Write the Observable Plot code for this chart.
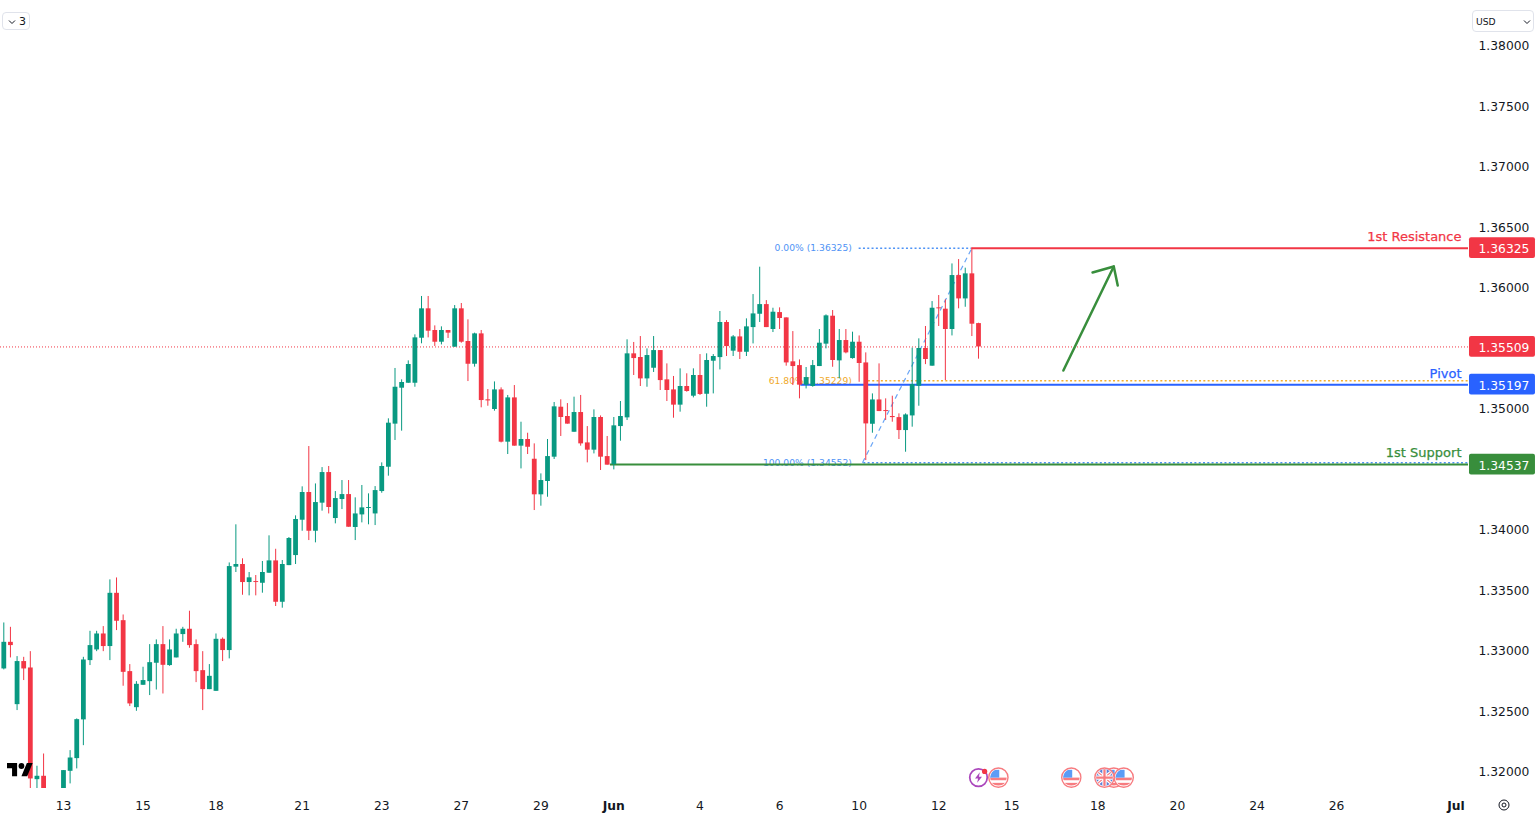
<!DOCTYPE html>
<html>
<head>
<meta charset="utf-8">
<script src="https://cdn.jsdelivr.net/npm/d3@7"></script>
<script src="https://cdn.jsdelivr.net/npm/@observablehq/plot@0.6"></script>
<style>
html,body{margin:0;padding:0;background:#fff;overflow:hidden}
#wrap{position:relative;width:1538px;height:816px;font-family:"DejaVu Sans",sans-serif;color:#131722}
#wrap>svg{display:block}
.ctl{position:absolute;box-sizing:border-box;border:1px solid #e0e3eb;border-radius:4px;background:#fff;font-size:11px;line-height:1}
</style>
</head>
<body>
<div id="wrap"></div>
<script>
const open = [
1.32848,1.33068,1.32553,1.32909,1.32856,1.31933,1.31961,1.31600,1.31750,1.31780,
1.32002,1.32107,1.32427,1.32917,1.33005,1.33137,1.33033,1.33473,1.33247,1.32826,
1.32528,1.32713,1.32743,1.32895,1.33049,1.32876,1.32939,1.33132,1.33176,1.33049,
1.32834,1.32677,1.32663,1.33093,1.33000,1.33689,1.33711,1.33562,1.33570,1.33556,
1.33639,1.33741,1.33399,1.33702,1.33785,1.34077,1.34306,1.33986,1.34218,1.34471,
1.34091,1.34248,1.34289,1.34017,1.34121,1.34174,1.34129,1.34314,1.34515,1.34871,
1.35168,1.35209,1.35209,1.35581,1.35824,1.35645,1.35548,1.35645,1.35507,1.35824,
1.35554,1.35366,1.35617,1.35072,1.34992,1.35154,1.34722,1.35088,1.34689,1.34744,
1.34581,1.34287,1.34397,1.34598,1.35011,1.34934,1.34804,1.34967,1.34716,1.34656,
1.34926,1.34603,1.34537,1.34851,1.34923,1.35452,1.35422,1.35245,1.35333,1.35479,
1.35237,1.35154,1.35028,1.35182,1.35102,1.35273,1.35118,1.35391,1.35421,1.35711,
1.35474,1.35592,1.35465,1.35669,1.35779,1.35859,1.35653,1.35793,1.35749,1.35386,
1.35355,1.35193,1.35182,1.35347,1.35532,1.35763,1.35394,1.35562,1.35413,1.35548,
1.35377,1.34870,1.35071,1.34983,1.34934,1.34925,1.34818,1.34939,1.35184,1.35496,
1.35350,1.35832,1.35821,1.35653,1.36099,1.35906,1.36113,1.35702];
const close = [
1.33068,1.33041,1.32909,1.32848,1.31939,1.31961,1.31700,1.31750,1.31790,1.32008,
1.32112,1.32429,1.32922,1.33041,1.33137,1.33033,1.33473,1.33242,1.32820,1.32559,
1.32721,1.32752,1.32900,1.33049,1.32878,1.33005,1.33137,1.33176,1.33041,1.32826,
1.32677,1.32787,1.33093,1.33000,1.33694,1.33711,1.33562,1.33601,1.33562,1.33645,
1.33741,1.33399,1.33711,1.33926,1.34083,1.34306,1.33986,1.34223,1.34471,1.34182,
1.34256,1.34289,1.34019,1.34129,1.34179,1.34182,1.34322,1.34521,1.34879,1.35176,
1.35215,1.35364,1.35584,1.35824,1.35639,1.35548,1.35645,1.35623,1.35824,1.35548,
1.35366,1.35617,1.35066,1.35063,1.35154,1.34722,1.35088,1.34689,1.34744,1.34680,
1.34287,1.34405,1.34603,1.35014,1.34926,1.34871,1.34967,1.34708,1.34656,1.34926,
1.34598,1.34532,1.34857,1.34934,1.35452,1.35413,1.35245,1.35438,1.35479,1.35231,
1.35149,1.35028,1.35182,1.35141,1.35273,1.35116,1.35397,1.35430,1.35711,1.35512,
1.35592,1.35465,1.35675,1.35782,1.35859,1.35669,1.35796,1.35744,1.35377,1.35347,
1.35193,1.35256,1.35355,1.35540,1.35766,1.35397,1.35562,1.35460,1.35548,1.35372,
1.34873,1.35071,1.34975,1.34975,1.34925,1.34818,1.34947,1.35198,1.35496,1.35405,
1.35829,1.35824,1.35653,1.36099,1.35906,1.36113,1.35697,1.35509];
const high = [
1.33228,1.33192,1.32950,1.32944,1.32991,1.32044,1.32145,1.31800,1.31830,1.32008,
1.32173,1.32435,1.32944,1.33159,1.33159,1.33198,1.33584,1.33600,1.33294,1.32884,
1.32743,1.32862,1.33049,1.33088,1.33198,1.33088,1.33176,1.33192,1.33325,1.33088,
1.32991,1.32884,1.33137,1.33104,1.33724,1.34039,1.33758,1.33645,1.33620,1.33736,
1.33948,1.33837,1.33744,1.33934,1.34113,1.34353,1.34686,1.34377,1.34512,1.34521,
1.34314,1.34405,1.34405,1.34262,1.34364,1.34295,1.34355,1.34551,1.34915,1.35331,
1.35237,1.35394,1.35609,1.35926,1.35926,1.35683,1.35675,1.35645,1.35851,1.35868,
1.35733,1.35623,1.35645,1.35157,1.35220,1.35171,1.35108,1.35190,1.34887,1.34796,
1.34708,1.34460,1.34744,1.35050,1.35072,1.35041,1.35094,1.35108,1.34851,1.34989,
1.34939,1.34769,1.34926,1.35058,1.35568,1.35546,1.35595,1.35493,1.35595,1.35479,
1.35369,1.35265,1.35328,1.35287,1.35328,1.35446,1.35452,1.35446,1.35802,1.35727,
1.35603,1.35653,1.35741,1.35942,1.36168,1.35892,1.35829,1.35832,1.35749,1.35636,
1.35402,1.35339,1.35397,1.35653,1.35774,1.35810,1.35653,1.35653,1.35631,1.35600,
1.35460,1.35121,1.35369,1.35080,1.35102,1.34956,1.34956,1.35499,1.35576,1.35678,
1.35884,1.35934,1.35898,1.36195,1.36231,1.36160,1.36325,1.35705];
const low = [
1.32840,1.32939,1.32504,1.32752,1.31750,1.31780,1.31650,1.31550,1.31700,1.31750,
1.31898,1.32022,1.32214,1.32876,1.32991,1.32991,1.32917,1.33165,1.32705,1.32537,
1.32498,1.32713,1.32628,1.32674,1.32641,1.32870,1.32939,1.33068,1.33019,1.32735,
1.32504,1.32677,1.32663,1.32909,1.32931,1.33645,1.33457,1.33452,1.33452,1.33474,
1.33639,1.33364,1.33350,1.33702,1.33711,1.33986,1.33909,1.33890,1.34152,1.34129,
1.34047,1.34165,1.34019,1.33909,1.34055,1.34039,1.34033,1.34300,1.34441,1.34736,
1.34813,1.35209,1.35176,1.35535,1.35584,1.35513,1.35526,1.35579,1.35507,1.35540,
1.35223,1.35342,1.35006,1.35019,1.34978,1.34716,1.34620,1.34689,1.34501,1.34620,
1.34157,1.34193,1.34267,1.34579,1.34769,1.34871,1.34804,1.34689,1.34551,1.34625,
1.34488,1.34532,1.34493,1.34730,1.34901,1.35273,1.35182,1.35176,1.35298,1.35149,
1.35058,1.34920,1.34970,1.35135,1.35088,1.35108,1.35011,1.35121,1.35319,1.35430,
1.35430,1.35405,1.35430,1.35534,1.35711,1.35669,1.35628,1.35653,1.35350,1.35190,
1.35080,1.35162,1.35176,1.35347,1.35493,1.35341,1.35245,1.35452,1.35408,1.35217,
1.34570,1.34796,1.34975,1.34901,1.34887,1.34744,1.34639,1.34846,1.35019,1.35363,
1.35350,1.35678,1.35231,1.35600,1.35824,1.35837,1.35595,1.35408];

const priceTicks = [1.38,1.375,1.37,1.365,1.36,1.35,1.34,1.335,1.33,1.325,1.32];
const dayTicks = [9,21,32,45,57,69,81,105,117,129,141,152,165,177,189,201];
const dayLabels = ["13","15","18","21","23","27","29","4","6","10","12","15","18","20","24","26"];
const monthTicks = [92,219];
const monthLabels = ["Jun","Jul"];

const lastPrice = 1.35509;
const resistance = 1.36325, pivot = 1.35197, support = 1.34537;
const fib0 = 1.36325, fib618 = 1.35229, fib100 = 1.34552;
const xEnd = 220.9, tagStart = 221.05, tagEnd = 231;
const arrowShaft = [[159.8,1.35314],[167.4,1.36174]];
const arrowHead = [[164.2,1.36124],[167.4,1.36174],[168.0,1.36017]];

const tags = [
  {price: resistance, text: "1.36325", color: "#f23645"},
  {price: lastPrice, text: "1.35509", color: "#f23645"},
  {price: pivot, text: "1.35197", color: "#2962ff"},
  {price: support, text: "1.34537", color: "#388e3c"}
];
const tagHalf = 0.00086;

const usFlag = `<svg xmlns="http://www.w3.org/2000/svg" viewBox="0 0 24 24"><defs><clipPath id="c"><circle cx="12" cy="12" r="9.5"/></clipPath></defs><circle cx="12" cy="12" r="11" fill="#fff" stroke="#f77c80" stroke-width="1.6"/><g clip-path="url(#c)"><rect width="24" height="24" fill="#fff"/><rect y="12" width="24" height="3" fill="#f77c80"/><rect y="18" width="24" height="3" fill="#f77c80"/><rect y="3" width="13" height="9" fill="#5b9cf6"/></g></svg>`;
const ukFlag = `<svg xmlns="http://www.w3.org/2000/svg" viewBox="0 0 24 24"><defs><clipPath id="c"><circle cx="12" cy="12" r="9.5"/></clipPath></defs><circle cx="12" cy="12" r="11" fill="#fff" stroke="#f77c80" stroke-width="1.6"/><g clip-path="url(#c)"><rect width="24" height="24" fill="#5b7fd6"/><path d="M0 2L24 22M24 2L0 22" stroke="#fff" stroke-width="4"/><path d="M0 2L24 22M24 2L0 22" stroke="#f77c80" stroke-width="1.4"/><path d="M12 0V24M0 12H24" stroke="#fff" stroke-width="5"/><path d="M12 0V24M0 12H24" stroke="#f77c80" stroke-width="2.6"/></g></svg>`;
const bolt = `<svg xmlns="http://www.w3.org/2000/svg" viewBox="0 0 24 24"><circle cx="12" cy="12" r="10" fill="#fff" stroke="#ab47bc" stroke-width="2"/><path d="M13.5 6L8 13h3.5l-1 5 5.5-7h-3.5z" fill="#ab47bc"/><circle cx="19" cy="5" r="3" fill="#f23645"/></svg>`;
const uri = s => "data:image/svg+xml;charset=utf-8," + encodeURIComponent(s);
const events = [
  {i: 147, src: uri(bolt)},
  {i: 150, src: uri(usFlag)},
  {i: 161, src: uri(usFlag)},
  {i: 167.4, src: uri(usFlag)},
  {i: 168.9, src: uri(usFlag)},
  {i: 166, src: uri(ukFlag)}
];
const eventPrice = 1.3195;

const candles = open.map((o, i) => ({i, o, c: close[i], h: high[i], l: low[i], col: close[i] >= o ? "#089981" : "#f23645"}));
const F = '"DejaVu Sans", sans-serif';
const levelLabel = (price, text, color, dy) => Plot.text([text], {
  y: () => price, text: d => d, frameAnchor: "right", textAnchor: "end", dx: -7, dy,
  fill: color, stroke: color, strokeWidth: 0.25, fontSize: 13
});

const chart = Plot.plot({
  width: 1538, height: 816,
  marginLeft: 0, marginRight: 70, marginTop: 0, marginBottom: 28,
  style: {background: "#fff", fontFamily: F, overflow: "visible"},
  x: {type: "linear", domain: [-0.498, xEnd]},
  y: {domain: [1.3186, 1.38372]},
  marks: [
    Plot.axisY({anchor: "right", ticks: priceTicks, tickFormat: d3.format(".5f"), tickSize: 0, tickPadding: 10, dy: 1, label: null, fontSize: 12.3, fill: "#131722", textAnchor: "start"}),
    Plot.axisX({ticks: dayTicks, tickFormat: d => dayLabels[dayTicks.indexOf(d)], tickSize: 0, tickPadding: 12.5, label: null, fontSize: 12.3, fill: "#131722"}),
    Plot.axisX({ticks: monthTicks, tickFormat: d => monthLabels[monthTicks.indexOf(d)], tickSize: 0, tickPadding: 12.5, label: null, fontSize: 12.3, fontWeight: "bold", fill: "#131722"}),

    Plot.ruleY([lastPrice], {x1: -0.498, x2: xEnd, stroke: "#f23645", strokeWidth: 1, strokeDasharray: "1,2"}),

    Plot.text(["0.00% (1.36325)"], {x: 127.9, y: [fib0], text: d => d, textAnchor: "end", fontSize: 9.2, fill: "#4f93f5"}),
    Plot.text(["61.80% (1.35229)"], {x: 127.9, y: [fib618], text: d => d, textAnchor: "end", fontSize: 9.2, fill: "#f0a92a"}),
    Plot.text(["100.00% (1.34552)"], {x: 127.9, y: [fib100], text: d => d, textAnchor: "end", fontSize: 9.2, fill: "#4f93f5"}),
    Plot.ruleY([fib0], {x1: 129, x2: 146, stroke: "#4f93f5", strokeWidth: 1.5, strokeDasharray: "2,2.3"}),
    Plot.ruleY([fib618], {x1: 130.4, x2: xEnd, stroke: "#f5ae2b", strokeWidth: 1.5, strokeDasharray: "2,2.3"}),
    Plot.ruleY([fib100], {x1: 129.7, x2: xEnd, stroke: "#4f93f5", strokeWidth: 1.5, strokeDasharray: "2,2.3"}),
    Plot.link([0], {x1: () => 129.5, y1: () => fib100, x2: () => 146, y2: () => fib0, stroke: "#6aa5f6", strokeWidth: 1.2, strokeDasharray: "5,4"}),

    Plot.ruleY([support], {x1: 91.5, x2: xEnd, stroke: "#388e3c", strokeWidth: 2}),
    Plot.ruleY([pivot], {x1: 120.2, x2: xEnd, stroke: "#2962ff", strokeWidth: 2}),
    Plot.ruleY([resistance], {x1: 146, x2: xEnd, stroke: "#f23645", strokeWidth: 2}),

    Plot.ruleX(candles, {x: "i", y1: "l", y2: "h", stroke: "col", strokeWidth: 1, shapeRendering: "geometricPrecision", clip: "frame"}),
    Plot.ruleX(candles, {x: "i", y1: "o", y2: "c", stroke: "col", strokeWidth: 4.8, shapeRendering: "geometricPrecision", clip: "frame"}),

    Plot.line(arrowShaft, {x: d => d[0], y: d => d[1], stroke: "#388e3c", strokeWidth: 2.5}),
    Plot.line(arrowHead, {x: d => d[0], y: d => d[1], stroke: "#388e3c", strokeWidth: 2.5}),

    Plot.image(events, {x: "i", y: () => eventPrice, src: "src", width: 21, height: 21}),

    Plot.rect(tags, {x1: tagStart, x2: tagEnd, y1: d => d.price - tagHalf, y2: d => d.price + tagHalf, fill: "color", rx: 2}),
    Plot.text(tags, {y: "price", text: "text", frameAnchor: "right", textAnchor: "start", dx: 10, dy: 1, fill: "#fff", fontSize: 12.3}),
    levelLabel(resistance, "1st Resistance", "#f23645", -11.5),
    levelLabel(pivot, "Pivot", "#2962ff", -11),
    levelLabel(support, "1st Support", "#388e3c", -12)
  ]
});
const wrap = document.getElementById("wrap");
wrap.appendChild(chart);

const overlay = `
<div class="ctl" style="left:2px;top:12px;width:28px;height:18px">
  <svg width="10" height="10" style="position:absolute;left:4px;top:4px" viewBox="0 0 10 10"><path d="M2 3.5L5 6.5L8 3.5" fill="none" stroke="#131722" stroke-width="1"/></svg>
  <span style="position:absolute;left:16px;top:3px">3</span>
</div>
<div class="ctl" style="left:1472px;top:10px;width:62px;height:22px">
  <span style="position:absolute;left:3px;top:6px;font-size:9.2px">USD</span>
  <svg width="10" height="10" style="position:absolute;left:49px;top:5.5px" viewBox="0 0 10 10"><path d="M2 3.5L5 6.5L8 3.5" fill="none" stroke="#131722" stroke-width="1"/></svg>
</div>
<svg width="26" height="14" viewBox="0 0 36 19" preserveAspectRatio="none" style="position:absolute;left:7px;top:763px"><path d="M14 18H7V7H0V0h14v18zM28 18h-8L27.5 0h8L28 18z" fill="#000"/><circle cx="20" cy="4" r="4" fill="#000"/></svg>
<svg width="14" height="14" viewBox="0 0 14 14" style="position:absolute;left:1497px;top:798px"><circle cx="7" cy="7" r="2" fill="none" stroke="#131722"/><circle cx="7" cy="7" r="5" fill="none" stroke="#131722" stroke-width="1"/></svg>`;
wrap.insertAdjacentHTML("beforeend", overlay);
</script>
</body>
</html>
